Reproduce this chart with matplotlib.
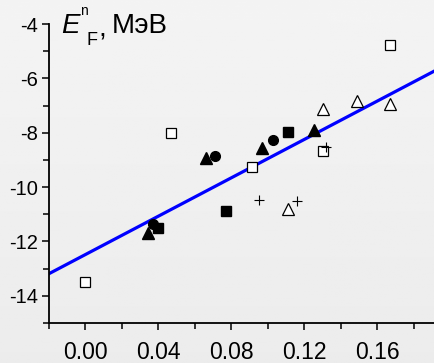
import numpy as np
import matplotlib
matplotlib.use("Agg")
import matplotlib.pyplot as plt
from matplotlib.ticker import MultipleLocator

plt.rcParams["font.family"] = ["Liberation Sans", "DejaVu Sans"]

# open squares
osq_x = [0.000, 0.047, 0.091, 0.130, 0.167]
osq_y = [-13.48, -8.00, -9.26, -8.67, -4.78]
# open triangles
otr_x = [0.130, 0.149, 0.167, 0.111]
otr_y = [-7.11, -6.85, -6.96, -10.81]
# crosses
pl_x = [0.095, 0.116, 0.132]
pl_y = [-10.48, -10.52, -8.52]
# filled squares
fsq_x = [0.111, 0.077, 0.040]
fsq_y = [-7.96, -10.89, -11.52]
# filled circles
fci_x = [0.103, 0.071, 0.037]
fci_y = [-8.26, -8.85, -11.37]
# filled triangles
ftr_x = [0.097, 0.066, 0.125, 0.034]
ftr_y = [-8.56, -8.93, -7.89, -11.70]

# linear fit
fit_a, fit_b = -12.48, 35.3
fit_x = np.array([-0.02, 0.191])

xticks = [0.0, 0.04, 0.08, 0.12, 0.16]
xlabels = ["0.00", "0.04", "0.08", "0.12", "0.16"]
yticks = [-14, -12, -10, -8, -6, -4]
ylabels = ["-14", "-12", "-10", "-8", "-6", "-4"]

W, H = 434, 363
fig = plt.figure(figsize=(W / 100, H / 100), dpi=100)

# soft grey background
bg = fig.add_axes([0, 0, 1, 1], zorder=-1)
grad = np.linspace(0.955, 0.925, 256).reshape(-1, 1)
bg.imshow(np.repeat(grad, 2, axis=1), aspect="auto", cmap="gray", vmin=0, vmax=1,
          extent=[0, 1, 0, 1])
bg.axis("off")

ax = fig.add_axes([49 / W, 40 / H, 385 / W, 299 / H])
ax.patch.set_alpha(0)

ax.plot(fit_x, fit_a + fit_b * fit_x, color="#0000ff", lw=2.3, zorder=2)

ax.plot(osq_x, osq_y, "s", ms=6.5, mfc="white", mec="black", mew=0.9, zorder=3)
ax.plot(otr_x, otr_y, "^", ms=8, mfc="white", mec="black", mew=0.9, zorder=3)
ax.plot(pl_x, pl_y, "+", ms=7, color="black", mew=0.8, zorder=3)
ax.plot(fsq_x, fsq_y, "s", ms=6.5, color="black", zorder=3)
ax.plot(fci_x, fci_y, "o", ms=7, color="black", zorder=3)
ax.plot(ftr_x, ftr_y, "^", ms=8, color="black", zorder=3)

ax.set_xlim(-0.02, 0.191)
ax.set_ylim(-15, -4)
ax.xaxis.set_minor_locator(MultipleLocator(0.02))
ax.yaxis.set_minor_locator(MultipleLocator(1))
ax.set_xticks(xticks)
ax.set_xticklabels(xlabels, fontsize=16.5)
ax.set_yticks(yticks)
ax.set_yticklabels(ylabels, fontsize=14.5)

for s in ["top", "right"]:
    ax.spines[s].set_visible(False)
for s in ["left", "bottom"]:
    ax.spines[s].set_linewidth(1.3)
ax.tick_params(which="both", direction="out", width=1.1)
ax.tick_params(which="major", length=5)
ax.tick_params(which="minor", length=4)
ax.tick_params(axis="x", pad=8)
ax.tick_params(axis="y", pad=3)

# axis label: E with superscript n and subscript F, then units
def px(x, y):
    return x / W, 1 - y / H

fig.text(*px(61, 33), "E", fontsize=20, style="italic", va="baseline", ha="left")
fig.text(*px(80, 15), "n", fontsize=10, va="baseline", ha="left")
fig.text(*px(86, 45), "F", fontsize=13, va="baseline", ha="left")
fig.text(*px(98, 37), ",", fontsize=20, va="baseline", ha="left")
fig.text(*px(112, 33), "МэВ", fontsize=20, va="baseline", ha="left")

fig.savefig("out.png", dpi=100)
